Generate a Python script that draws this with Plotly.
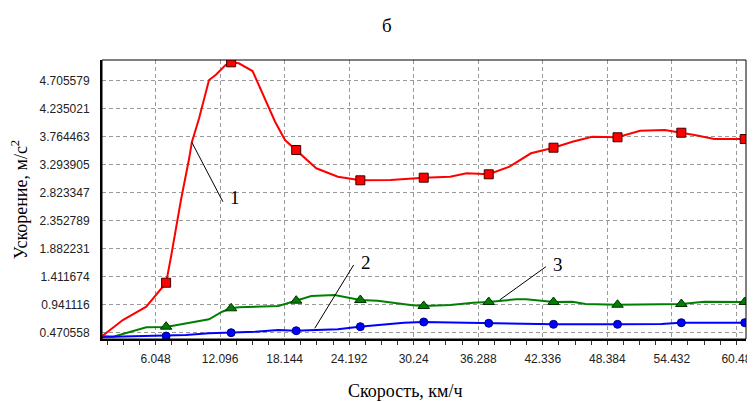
import plotly.graph_objects as go

# ---- data ----
red_x = [0.94, 2.98, 5.18, 7.04, 7.50, 8.43, 9.20, 9.45, 10.13, 11.06, 11.68, 12.61, 13.13, 13.85,
         15.14, 16.01, 17.25, 18.18, 19.23, 21.11, 23.13, 25.24, 28.08, 31.18, 33.65, 35.20, 37.27,
         39.22, 41.23, 43.34, 45.11, 46.96, 49.34, 51.45, 53.77, 55.32, 56.56, 58.41, 61.26]
red_y = [0.392, 0.677, 0.901, 1.304, 1.741, 2.694, 3.395, 3.664, 4.067, 4.711, 4.795, 4.963, 5.008, 4.991,
         4.862, 4.514, 4.010, 3.702, 3.534, 3.227, 3.086, 3.025, 3.030, 3.069, 3.086, 3.143, 3.126,
         3.254, 3.479, 3.573, 3.674, 3.758, 3.748, 3.859, 3.870, 3.825, 3.786, 3.719, 3.719]

green_x = [1.00, 2.08, 5.18, 6.42, 7.04, 11.06, 12.29, 13.13, 13.85, 17.56, 18.18, 19.26, 20.65, 22.82,
           25.24, 26.85, 29.01, 29.94, 31.18, 33.65, 35.82, 37.21, 39.84, 40.77, 43.40, 45.11, 46.34,
           49.34, 55.32, 57.48, 61.35]
green_y = [0.408, 0.397, 0.555, 0.555, 0.560, 0.689, 0.817, 0.874, 0.891, 0.913, 0.946, 1.002, 1.081, 1.097,
           1.013, 1.002, 0.946, 0.929, 0.913, 0.929, 0.968, 0.980, 1.025, 1.025, 0.980, 0.985, 0.946,
           0.934, 0.946, 0.985, 0.980]

blue_x = [0.94, 2.70, 7.04, 8.90, 11.06, 13.13, 15.39, 17.56, 19.16, 21.11, 23.13, 25.14, 27.15, 29.32,
          31.11, 37.21, 43.34, 49.28, 53.46, 55.25, 61.35]
blue_y = [0.392, 0.397, 0.408, 0.425, 0.454, 0.464, 0.481, 0.509, 0.497, 0.509, 0.521, 0.565, 0.593, 0.632,
          0.644, 0.622, 0.605, 0.605, 0.610, 0.632, 0.632]

mark_x = [7.04, 13.13, 19.23, 25.24, 31.18, 37.27, 43.34, 49.34, 55.32, 61.26]
red_mark_y = [1.304, 5.008, 3.534, 3.025, 3.069, 3.126, 3.573, 3.748, 3.825, 3.719]
green_mark_y = [0.565, 0.874, 1.002, 1.013, 0.913, 0.980, 0.980, 0.934, 0.946, 0.980]
blue_mark_y = [0.408, 0.464, 0.497, 0.565, 0.644, 0.622, 0.605, 0.605, 0.632, 0.632]

x_ticks = [6.048, 12.096, 18.144, 24.192, 30.24, 36.288, 42.336, 48.384, 54.432, 60.48]
x_tick_text = ["6.048", "12.096", "18.144", "24.192", "30.24", "36.288", "42.336", "48.384", "54.432", "60.48"]
y_ticks = [0.470558, 0.941116, 1.411674, 1.882231, 2.352789, 2.823347, 3.293905, 3.764463, 4.235021, 4.705579]
y_tick_text = ["0.470558", "0.941116", "1.411674", "1.882231", "2.352789", "2.823347", "3.293905",
               "3.764463", "4.235021", "4.705579"]

# labels: (curve x, curve y, line end x, line end y, text x, text y, text)
callouts = [
    (9.45, 3.664, 12.36, 2.665, 13.54, 2.744, "1"),
    (20.97, 0.538, 24.61, 1.602, 25.76, 1.640, "2"),
    (38.29, 1.013, 42.63, 1.573, 43.77, 1.602, "3"),
]

RED, GREEN, BLUE = "#ff0000", "#008000", "#0000ff"

fig = go.Figure()
fig.add_trace(go.Scatter(x=green_x, y=green_y, mode="lines", line=dict(color=GREEN, width=2), hoverinfo="skip"))
fig.add_trace(go.Scatter(x=blue_x, y=blue_y, mode="lines", line=dict(color=BLUE, width=2), hoverinfo="skip"))
fig.add_trace(go.Scatter(x=red_x, y=red_y, mode="lines", line=dict(color=RED, width=2), hoverinfo="skip"))
fig.add_trace(go.Scatter(x=mark_x, y=green_mark_y, mode="markers",
                         marker=dict(symbol="triangle-up", size=10, color=GREEN, line=dict(color="#003000", width=1))))
fig.add_trace(go.Scatter(x=mark_x, y=blue_mark_y, mode="markers",
                         marker=dict(symbol="circle", size=8, color=BLUE, line=dict(color="#000080", width=1))))
fig.add_trace(go.Scatter(x=mark_x, y=red_mark_y, mode="markers",
                         marker=dict(symbol="square", size=9, color=RED, line=dict(color="#400000", width=1)),
                         cliponaxis=True))

for cx, cy, lx, ly, tx, ty, t in callouts:
    fig.add_shape(type="line", xref="x", yref="y", x0=cx, y0=cy, x1=lx, y1=ly,
                  line=dict(color="black", width=1))
    fig.add_annotation(x=tx, y=ty, xref="x", yref="y", text=t, showarrow=False,
                       font=dict(family="Liberation Serif", size=19, color="black"))

# frame
fig.add_shape(type="rect", xref="paper", yref="paper", x0=0, y0=0, x1=1, y1=1,
              line=dict(color="black", width=1), layer="above")

fig.add_annotation(x=(390 - 102) / 650, y=1, xref="paper", yref="paper",
                   text="б", showarrow=False, yanchor="middle", yshift=35,
                   font=dict(family="Liberation Serif", size=19, color="black"))
fig.add_annotation(x=(408 - 102) / 650, y=0, xref="paper", yref="paper",
                   text="Скорость, км/ч", showarrow=False, yanchor="middle", yshift=-52,
                   font=dict(family="Liberation Serif", size=18, color="black"))

# the page body adds an 8px offset, so the figure is 8px smaller and margins compensate
fig.update_layout(
    width=747, height=394,
    margin=dict(l=94, r=3, t=52, b=63),
    paper_bgcolor="white", plot_bgcolor="white",
    showlegend=False,
    font=dict(family="Liberation Sans", size=12, color="#222"),
    xaxis=dict(range=[1.031, 61.38], tickvals=x_ticks, ticktext=x_tick_text,
               showgrid=True, gridcolor="#9a9a9a", griddash="4px,3px", gridwidth=1,
               showline=True, linecolor="black", linewidth=2,
               ticks="outside", ticklen=4, tickcolor="#333", ticklabelstandoff=4,
               ticklabeloverflow="allow",
               minor=dict(tick0=0, dtick=1.512, ticks="outside", ticklen=4, tickcolor="#333", showgrid=False),
               zeroline=False, tickfont=dict(size=12, color="#222")),
    yaxis=dict(range=[0.358, 5.047], tickvals=y_ticks, ticktext=y_tick_text,
               showgrid=True, gridcolor="#9a9a9a", griddash="4px,3px", gridwidth=1,
               showline=True, linecolor="black", linewidth=2,
               ticks="", ticklabelstandoff=8, zeroline=False,
               tickfont=dict(size=12, color="#222"),
               title=dict(text="Ускорение, м/с<sup>2</sup>", standoff=12,
                          font=dict(family="Liberation Serif", size=18, color="black"))),
)

fig.write_html("out.html")
